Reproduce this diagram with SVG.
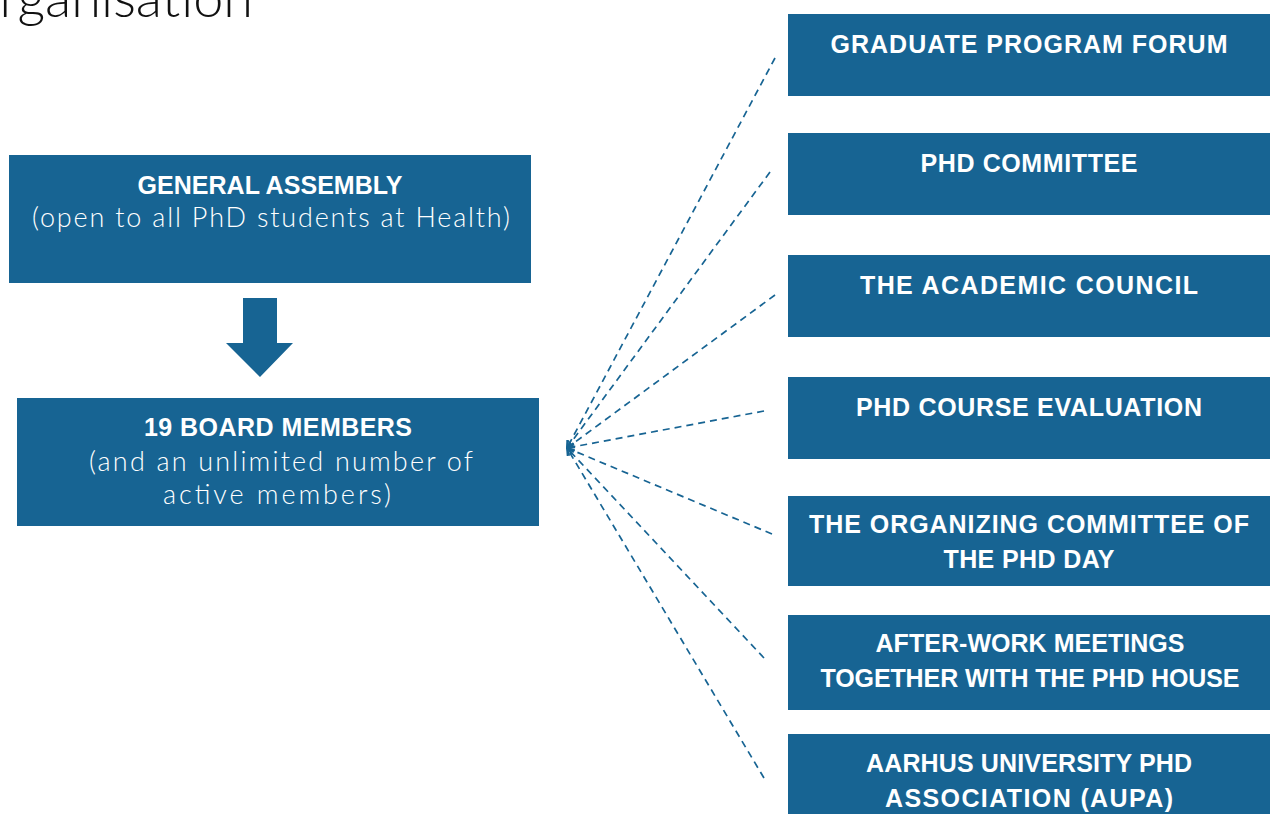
<svg xmlns="http://www.w3.org/2000/svg" width="1270" height="814" viewBox="0 0 1270 814">
<defs>
<style>
.box{fill:#176493}
.b{font-family:"Liberation Sans",Arial,sans-serif;font-weight:bold;font-size:25px;fill:#fff;text-anchor:middle}
.r{font-family:Lato,"Open Sans",sans-serif;font-weight:300;font-size:27px;fill:#fff;text-anchor:middle}
.conn{stroke:#176493;stroke-width:1.7;stroke-dasharray:7 5;fill:none;marker-end:url(#ah)}
</style>
<marker id="ah" viewBox="0 0 10 10" refX="9" refY="5" markerWidth="9" markerHeight="9" orient="auto" markerUnits="userSpaceOnUse">
<path d="M1,1 L9,5 L1,9" fill="none" stroke="#176493" stroke-width="2"/>
</marker>
</defs>
<rect width="1270" height="814" fill="#fff"/>
<text x="253" y="17" font-family="Lato,sans-serif" font-weight="300" font-size="54" fill="#111" text-anchor="end">Organisation</text>

<g id="general-assembly">
<rect class="box" x="9" y="155" width="522" height="128"/>
<text class="b" x="270" y="194" textLength="265">GENERAL ASSEMBLY</text>
<text class="r" x="271" y="227" textLength="478">(open to all PhD students at Health)</text>
</g>
<g id="down-arrow">
<path class="box" d="M243,298 H277 V343 H293 L260,377 L226,343 H243 Z"/>
</g>
<g id="board-members">
<rect class="box" x="17" y="398" width="522" height="128"/>
<text class="b" x="278" y="436" textLength="268">19 BOARD MEMBERS</text>
<text class="r" x="281" y="471" textLength="384">(and an unlimited number of</text>
<text class="r" x="277" y="504" textLength="228">active members)</text>
</g>

<g id="connectors">
<line class="conn" x1="775" y1="58" x2="567" y2="448"/>
<line class="conn" x1="770" y1="172" x2="567" y2="448"/>
<line class="conn" x1="775" y1="295" x2="567" y2="448"/>
<line class="conn" x1="764" y1="411" x2="567" y2="448"/>
<line class="conn" x1="772" y1="534" x2="567" y2="448"/>
<line class="conn" x1="764" y1="658" x2="567" y2="448"/>
<line class="conn" x1="764" y1="778" x2="567" y2="448"/>
</g>

<g id="graduate-program-forum">
<rect class="box" x="788" y="14" width="482" height="82"/>
<text class="b" x="1029" y="53" textLength="397">GRADUATE PROGRAM FORUM</text>
</g>
<g id="phd-committee">
<rect class="box" x="788" y="133" width="482" height="82"/>
<text class="b" x="1029" y="172" textLength="217">PHD COMMITTEE</text>
</g>
<g id="academic-council">
<rect class="box" x="788" y="255" width="482" height="82"/>
<text class="b" x="1029" y="294" textLength="338">THE ACADEMIC COUNCIL</text>
</g>
<g id="phd-course-evaluation">
<rect class="box" x="788" y="377" width="482" height="82"/>
<text class="b" x="1029" y="416" textLength="346">PHD COURSE EVALUATION</text>
</g>
<g id="organizing-committee">
<rect class="box" x="788" y="496" width="482" height="90"/>
<text class="b" x="1029" y="533" textLength="440">THE ORGANIZING COMMITTEE OF</text>
<text class="b" x="1029" y="568" textLength="171">THE PHD DAY</text>
</g>
<g id="after-work-meetings">
<rect class="box" x="788" y="615" width="482" height="95"/>
<text class="b" x="1030" y="652" textLength="309">AFTER-WORK MEETINGS</text>
<text class="b" x="1030" y="687" textLength="419">TOGETHER WITH THE PHD HOUSE</text>
</g>
<g id="aupa">
<rect class="box" x="788" y="734" width="482" height="80"/>
<text class="b" x="1029" y="772" textLength="326">AARHUS UNIVERSITY PHD</text>
<text class="b" x="1029" y="807" textLength="288">ASSOCIATION (AUPA)</text>
</g>
</svg>
